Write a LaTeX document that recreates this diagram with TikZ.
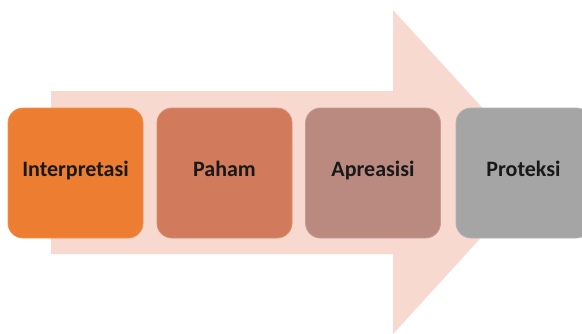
\documentclass[tikz,border=0pt]{standalone}
\usepackage{fontspec}
\setmainfont{Carlito}
\definecolor{arrowfill}{HTML}{F8D9CF}
\definecolor{stepA}{HTML}{ED7D31}
\definecolor{stepB}{HTML}{D17A5C}
\definecolor{stepC}{HTML}{BA8A81}
\definecolor{stepD}{HTML}{A5A5A5}
\tikzset{
  stagebox/.style={rounded corners=15pt, minimum width=135pt, minimum height=130pt,
    inner sep=0pt, font=\bfseries\fontsize{22}{24}\selectfont, text=black!90,
    text height=0.64em, text depth=0pt, line width=0.8pt},
}
\begin{document}
\begin{tikzpicture}[x=1pt,y=-1pt]
  \useasboundingbox (0,0) rectangle (582,333);
  \clip (0,0) rectangle (582,333);
  % background block arrow
  \fill[arrowfill] (51,91) -- (393,91) -- (393,10) -- (541,172) -- (393,334)
    -- (393,254) -- (51,254) -- cycle;
  % stage boxes
  \node[stagebox, fill=stepA, draw=stepA!85!white] (interp) at (75.5,173) {Interpretasi};
  \node[stagebox, fill=stepB, draw=stepB!85!white] (paham) at (224.5,173) {Paham};
  \node[stagebox, fill=stepC, draw=stepC!85!white] (apre) at (373,173) {Apreasisi};
  \node[stagebox, fill=stepD, draw=stepD!85!white] (prot) at (523.5,173) {Proteksi};
\end{tikzpicture}
\end{document}
